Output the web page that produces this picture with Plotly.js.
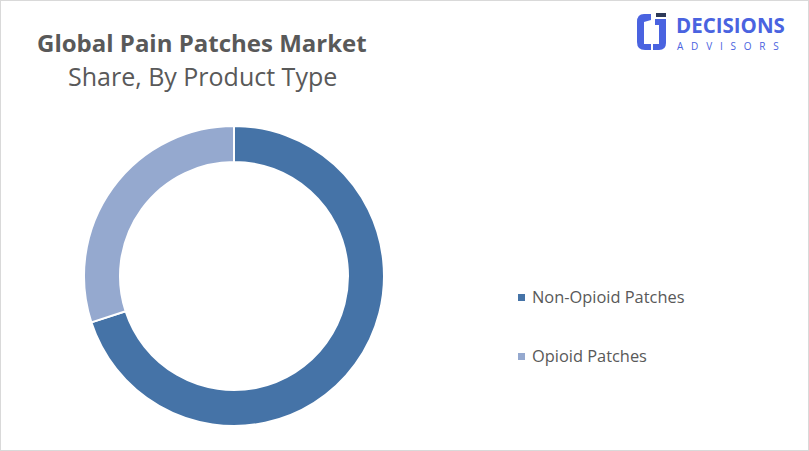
<!DOCTYPE html>
<html><head><meta charset="utf-8">
<script src="https://cdn.plot.ly/plotly-3.0.1.min.js"></script>
<style>html,body{margin:0;padding:0;background:#fff;}#chart{width:809px;height:451px;}</style>
</head><body><div id="chart"></div>
<script>
var categories = ["Non-Opioid Patches", "Opioid Patches"];
var shares = [70, 30];
var colors = ["#4573A7", "#95A9CF"];
var titleText = "Global Pain Patches Market";
var subtitleText = "Share, By Product Type";

var W = 809, H = 451;
function px(x){return x/W;} function py(y){return 1-y/H;}

var trace = {
  type: "pie", labels: categories, values: shares, hole: 0.76, sort: false,
  direction: "clockwise", rotation: 0,
  marker: {colors: colors, line: {color: "#ffffff", width: 2}},
  textinfo: "none", hoverinfo: "label+percent", showlegend: false,
  domain: {x: [px(84), px(384)], y: [py(426), py(126)]}
};

var font = "'Open Sans', 'Noto Sans', sans-serif";
var annotations = [
  {text: "<b>" + titleText + "</b>", x: px(202), y: py(42), xref: "paper", yref: "paper", showarrow: false,
   xanchor: "center", yanchor: "middle", font: {family: font, size: 24, color: "#595959"}},
  {text: subtitleText, x: px(202), y: py(76), xref: "paper", yref: "paper", showarrow: false,
   xanchor: "center", yanchor: "middle", font: {family: font, size: 25, color: "#595959"}},
  {text: "<b>DECISIONS</b>", x: px(674), y: py(25), xref: "paper", yref: "paper", showarrow: false,
   xanchor: "left", yanchor: "middle", font: {family: font, size: 20.5, color: "#4A63E0"}},
  {text: "A   D   V   I   S   O   R   S", x: px(675), y: py(46), xref: "paper", yref: "paper", showarrow: false,
   xanchor: "left", yanchor: "middle", font: {family: font, size: 10, color: "#4A63E0"}}
];
var shapes = [
  {type: "rect", xref: "paper", yref: "paper", x0: 0, x1: 1, y0: 0, y1: 1, line: {color: "#D9D9D9", width: 2}, fillcolor: "rgba(0,0,0,0)"},
  {type: "path", xref: "paper", yref: "paper",
   path: "M " + px(651) + "," + py(14) + " L " + px(644) + "," + py(14) + " Q " + px(637) + "," + py(14) + " " + px(637) + "," + py(22) +
         " L " + px(637) + "," + py(42) + " Q " + px(637) + "," + py(50) + " " + px(645) + "," + py(50) +
         " L " + px(651) + "," + py(50) + " L " + px(651) + "," + py(44) + " L " + px(645) + "," + py(44) +
         " L " + px(644) + "," + py(44) + " L " + px(644) + "," + py(22) + " L " + px(651) + "," + py(20) + " Z",
   fillcolor: "#4A63E0", line: {width: 0}},
  {type: "path", xref: "paper", yref: "paper",
   path: "M " + px(655) + "," + py(19) + " L " + px(666) + "," + py(19) + " L " + px(666) + "," + py(43) +
         " Q " + px(666) + "," + py(50) + " " + px(659) + "," + py(50) + " L " + px(653) + "," + py(50) +
         " L " + px(653) + "," + py(44) + " L " + px(659) + "," + py(44) + " L " + px(659) + "," + py(25) + " L " + px(655) + "," + py(25) + " Z",
   fillcolor: "#4A63E0", line: {width: 0}},
  {type: "rect", xref: "paper", yref: "paper", x0: px(656), x1: px(666), y0: py(17), y1: py(13), fillcolor: "#2E3A59", line: {width: 0}}
];
var legendY = [296, 355];
for (var i = 0; i < categories.length; i++) {
  shapes.push({type: "rect", xref: "paper", yref: "paper", x0: px(518), x1: px(525), y0: py(legendY[i] + 5), y1: py(legendY[i] - 2),
    fillcolor: colors[i], line: {width: 0}});
  annotations.push({text: categories[i], x: px(530), y: py(legendY[i]), xref: "paper", yref: "paper", showarrow: false,
    xanchor: "left", yanchor: "middle", font: {family: font, size: 16.4, color: "#595959"}});
}

var layout = {
  width: W, height: H, margin: {l: 0, r: 0, t: 0, b: 0},
  paper_bgcolor: "#ffffff", plot_bgcolor: "#ffffff",
  showlegend: false, annotations: annotations, shapes: shapes
};
Plotly.newPlot("chart", [trace], layout, {displayModeBar: false, staticPlot: true});
</script></body></html>
